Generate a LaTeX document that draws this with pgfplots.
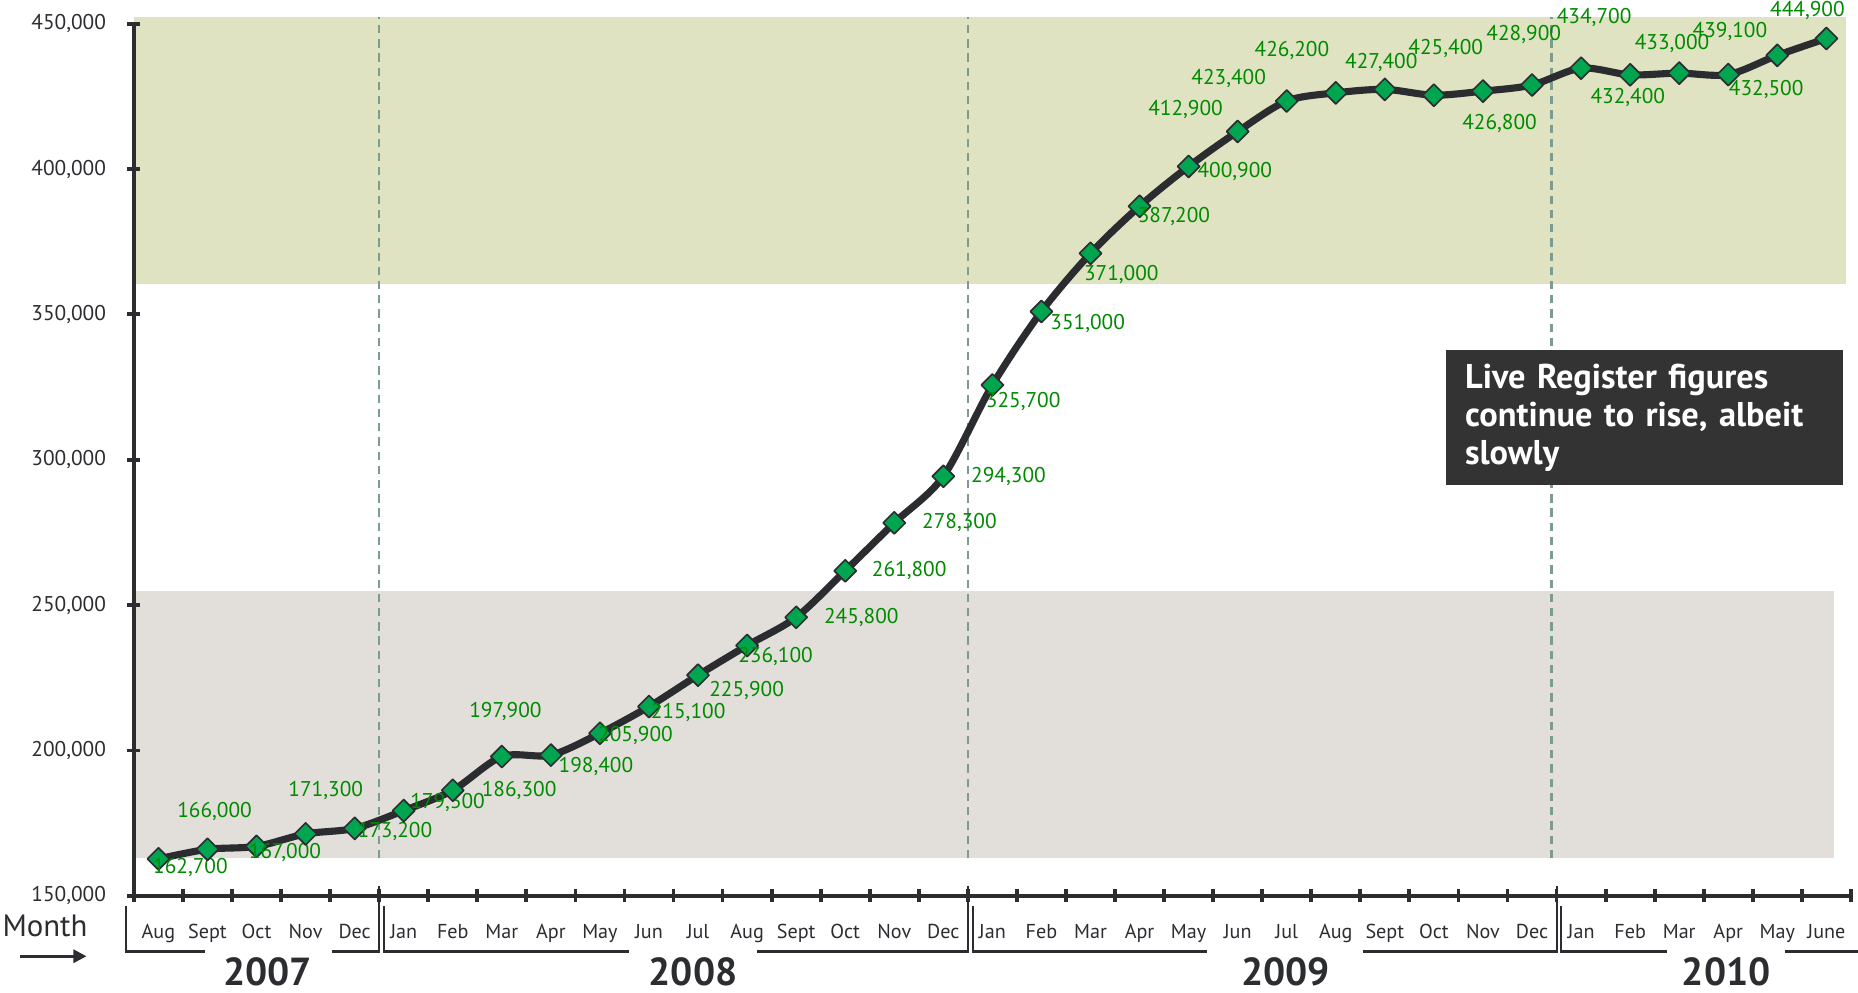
\documentclass[border=0pt]{standalone}
\usepackage{fontspec}
\setmainfont{PT Sans}
\usepackage{pgfplots}
\usepackage{pgfplotstable}
\pgfplotsset{compat=1.18}
\usetikzlibrary{arrows.meta}

\definecolor{axisdark}{HTML}{2B2D31}
\definecolor{linedark}{HTML}{2A2C30}
\definecolor{bandgreen}{HTML}{DFE3C1}
\definecolor{bandgrey}{HTML}{E2DFDA}
\definecolor{dashcol}{HTML}{7D9C90}
\definecolor{mkgreen}{HTML}{00A64F}
\definecolor{lblgreen}{HTML}{008A00}
\definecolor{boxdark}{HTML}{333333}

% month index, live register, label offset (pt)
\pgfplotstableread{
x y dx dy
0 162700 13.5 -3.5
1 166000 3 16
2 167000 12 -2.5
3 171300 8.5 18.5
4 173200 17 -1.5
5 179300 18.5 3.5
6 186300 28 0
7 197900 1.5 19
8 198400 19 -5
9 205900 15 -1
10 215100 16.5 -2.5
11 225900 20.5 -6.5
12 236100 12 -4.5
13 245800 27.5 0
14 261800 27 0
15 278300 27.5 0
16 294300 27.5 0
17 325700 13 -7
18 351000 19.5 -5
19 371000 13 -9
20 387200 14.5 -4.5
21 400900 19.5 -2
22 412900 -22 9.5
23 423400 -24.5 9.5
24 426200 -18.5 18
25 427400 -1.5 11.5
26 425400 5 19.5
27 426800 7 -13.5
28 428900 -3.5 21.5
29 434700 5.5 21.5
30 432400 -1 -9.5
31 433000 -3 12.5
32 432500 16 -6.5
33 439100 -20 10
34 444900 -8 12
}\lrdata

\begin{document}
\begin{tikzpicture}
\begin{axis}[
  name=ax,
  scale only axis,
  width=724.5pt, height=368pt,
  xmin=-0.5, xmax=34.5,
  ymin=150000, ymax=450000,
  clip=false,
  axis on top,
  axis lines=left,
  axis line style={-, line width=1.8pt, axisdark},
  tick align=center,
  major tick length=5.5pt,
  tick style={line width=1.6pt, axisdark},
  ytick={150000,200000,...,450000},
  scaled y ticks=false,
  yticklabel style={font=\fontsize{9}{10}\selectfont, text=axisdark,
    /pgf/number format/fixed, /pgf/number format/precision=0,
    /pgf/number format/1000 sep={,},
    /pgf/number format/assume math mode=true, xshift=-5.5pt},
  xtick={-0.5,0.5,...,34.5},
  xticklabels={},
  extra x ticks={0,1,...,34},
  extra x tick labels={Aug,Sept,Oct,Nov,Dec,
    Jan,Feb,Mar,Apr,May,Jun,Jul,Aug,Sept,Oct,Nov,Dec,
    Jan,Feb,Mar,Apr,May,Jun,Jul,Aug,Sept,Oct,Nov,Dec,
    Jan,Feb,Mar,Apr,May,June},
  extra x tick style={major tick length=0pt,
    xticklabel style={anchor=base, yshift=-18pt,
      font=\fontsize{8.5}{10}\selectfont, text=axisdark}},
]
% background bands
\fill[bandgreen] (axis cs:-0.5,360300) rectangle (axis cs:34.4,452300);
\fill[bandgrey] (axis cs:-0.5,163000) rectangle (axis cs:34.16,254800);
% year separators
\draw[dashcol, line width=1pt, dash pattern=on 3.5pt off 2.5pt]
  (axis cs:4.5,163000) -- (axis cs:4.5,452300);
\draw[dashcol, line width=1pt, dash pattern=on 3.5pt off 2.5pt]
  (axis cs:16.5,163000) -- (axis cs:16.5,452300);
\draw[dashcol, line width=1pt, dash pattern=on 3.5pt off 2.5pt]
  (axis cs:28.4,163000) -- (axis cs:28.4,452300);

\addplot[smooth, line width=3pt, color=linedark, line join=round,
  mark=square*, mark size=3.3pt,
  mark options={rotate=45, fill=mkgreen, draw=axisdark, line width=0.7pt, solid},
  point meta=explicit,
  visualization depends on={\thisrow{dx}\as\ldx},
  visualization depends on={\thisrow{dy}\as\ldy},
  nodes near coords={\pgfmathprintnumber[fixed,precision=0,1000 sep={,},assume math mode=true]{\pgfplotspointmeta}},
  every node near coord/.append style={anchor=center, xshift=\ldx*1pt, yshift=\ldy*1pt,
    font=\fontsize{9}{10}\selectfont, text=lblgreen, inner sep=0pt},
] table[x=x, y=y, meta=y] {\lrdata};

% year brackets
\begin{scope}[axisdark, line width=0.85pt]
\draw ([yshift=-4.5pt]axis cs:-0.67,150000) -- ([yshift=-23.5pt]axis cs:-0.67,150000) -- ([yshift=-23.5pt]axis cs:0.95,150000);
\draw ([yshift=-23.5pt]axis cs:3.53,150000) -- ([yshift=-23.5pt]axis cs:4.5,150000) -- ([yshift=4pt]axis cs:4.5,150000);
\draw ([xshift=2pt,yshift=-4.5pt]axis cs:4.5,150000) -- ([xshift=2pt,yshift=-23.5pt]axis cs:4.5,150000) -- ([yshift=-23.5pt]axis cs:9.6,150000);
\draw ([yshift=-23.5pt]axis cs:12.2,150000) -- ([yshift=-23.5pt]axis cs:16.5,150000) -- ([yshift=4pt]axis cs:16.5,150000);
\draw ([xshift=2pt,yshift=-4.5pt]axis cs:16.5,150000) -- ([xshift=2pt,yshift=-23.5pt]axis cs:16.5,150000) -- ([yshift=-23.5pt]axis cs:21.38,150000);
\draw ([yshift=-23.5pt]axis cs:24.55,150000) -- ([yshift=-23.5pt]axis cs:28.5,150000) -- ([yshift=4pt]axis cs:28.5,150000);
\draw ([xshift=2pt,yshift=-4.5pt]axis cs:28.5,150000) -- ([xshift=2pt,yshift=-23.5pt]axis cs:28.5,150000) -- ([yshift=-23.5pt]axis cs:30.76,150000);
\draw ([yshift=-23.5pt]axis cs:33.15,150000) -- ([yshift=-23.5pt]axis cs:34.7,150000);
\end{scope}

\begin{scope}[font=\bfseries\fontsize{16.5}{18}\selectfont, text=axisdark, inner sep=0pt]
\node at ([yshift=-32pt]axis cs:2.23,150000) {2007};
\node at ([yshift=-32pt]axis cs:10.9,150000) {2008};
\node at ([yshift=-32pt]axis cs:22.98,150000) {2009};
\node at ([yshift=-32pt]axis cs:31.96,150000) {2010};
\end{scope}

\node[font=\fontsize{13}{15}\selectfont, text=axisdark] at ([xshift=-37.5pt,yshift=-12.5pt]rel axis cs:0,0) {Month};
\draw[-{Triangle[length=5.5pt,width=5.5pt]}, line width=1.2pt, axisdark]
  ([xshift=-48pt,yshift=-25.5pt]rel axis cs:0,0) -- ([xshift=-20pt,yshift=-25.5pt]rel axis cs:0,0);

\node[fill=boxdark, text=white, font=\bfseries\fontsize{14.5}{16}\selectfont,
  anchor=north west, minimum width=167.5pt, minimum height=57pt,
  text width=151.5pt, inner xsep=8pt, inner ysep=3pt, align=left]
  at (axis cs:26.24,337900) {Live Register figures\\continue to rise, albeit\\slowly};
\end{axis}
\pgfresetboundingbox
\path[use as bounding box] ([xshift=-56.5pt,yshift=-41pt]ax.south west) rectangle ([xshift=3pt,yshift=10pt]ax.north east);
\end{tikzpicture}
\end{document}
